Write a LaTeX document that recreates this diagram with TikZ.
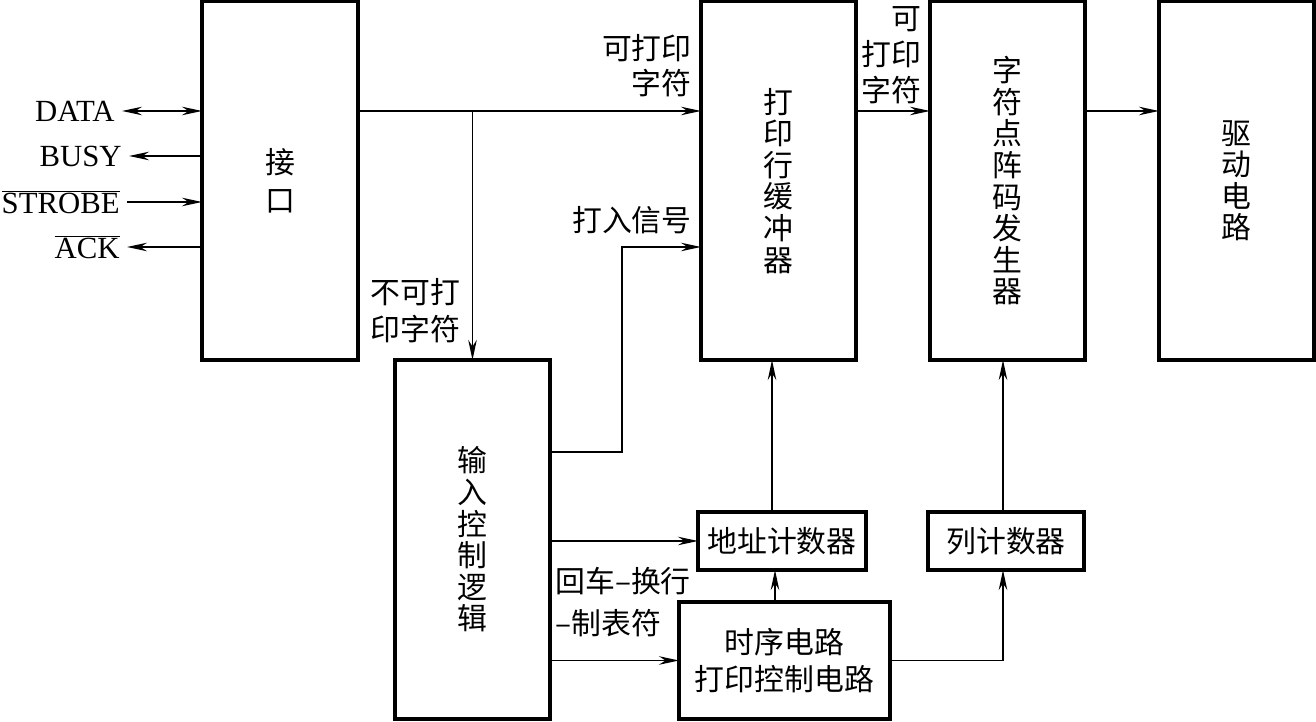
\documentclass[tikz,border=0pt]{standalone}
\usepackage{fontspec}
\setmainfont{Liberation Serif}
\newfontfamily\cjk{Noto Sans CJK SC}
\usetikzlibrary{arrows.meta,positioning,calc}

\begin{document}
\begin{tikzpicture}[
  every node/.style={font=\cjk\fontsize{17}{18}\selectfont},
  blk/.style={draw,line width=2.2pt,inner sep=0pt,outer sep=0pt,align=center},
  arr/.style={-{Stealth[length=4mm,width=1.7mm]},line width=1pt},
  lbl/.style={inner sep=0pt},
  sig/.style={font=\fontsize{17.5}{19}\selectfont,anchor=east,inner sep=4pt},
]
  \useasboundingbox (0,0) rectangle (26.32,14.44);

  % Upper row
  \node[blk,minimum width=3.12cm,minimum height=7.17cm,
        font=\cjk\fontsize{17}{21.8}\selectfont] (jk) at (5.6,10.825) {接\\口};
  \node[blk,minimum width=3.1cm,minimum height=7.17cm] (hc) at (15.57,10.825)
    {打\\印\\行\\缓\\冲\\器};
  \node[blk,minimum width=3.1cm,minimum height=7.17cm] (zf) at (20.15,10.825)
    {字\\符\\点\\阵\\码\\发\\生\\器};
  \node[blk,minimum width=3.1cm,minimum height=7.17cm] (qd) at (24.73,10.825)
    {驱\\动\\电\\路};

  % Lower row
  \node[blk,minimum width=3.1cm,minimum height=7.18cm] (srkz) at (9.45,3.65)
    {输\\入\\控\\制\\逻\\辑};
  \node[blk,minimum width=3.36cm,minimum height=1.16cm] (dz) at (15.64,3.62) {地址计数器};
  \node[blk,minimum width=3.12cm,minimum height=1.16cm] (ljs) at (20.12,3.62) {列计数器};
  \node[blk,minimum width=4.22cm,minimum height=2.34cm,
        font=\cjk\fontsize{17}{21}\selectfont] (sx) at (15.69,1.23) {时序电路\\打印控制电路};

  % Interface signals
  \node[sig] (data) at (2.44,12.22) {DATA};
  \node[sig] (busy) at (2.58,11.32) {BUSY};
  \node[sig] (stb) at (2.54,10.40) {$\overline{\mbox{STROBE}}$};
  \node[sig] (ack) at (2.54,9.50) {$\overline{\mbox{ACK}}$};
  \draw[{Stealth[length=4mm,width=1.7mm]}-{Stealth[length=4mm,width=1.7mm]},line width=1pt]
    (data.east) -- (data.east -| jk.west);
  \draw[arr] (busy.east -| jk.west) -- (busy.east);
  \draw[arr] (stb.east) -- (stb.east -| jk.west);
  \draw[arr] (ack.east -| jk.west) -- (ack.east);

  % Data path
  \coordinate (jkout) at (7.16,12.22);
  \coordinate (tap) at (srkz.north |- jkout);
  \draw[arr] (jkout) -- (jkout -| hc.west);
  \draw[arr] (tap) -- (srkz.north);
  \draw[arr] (jkout -| hc.east) -- (jkout -| zf.west);
  \draw[arr] (jkout -| zf.east) -- (jkout -| qd.west);

  % Control path
  \coordinate (dr1) at (srkz.east |- 0,5.40);
  \coordinate (dr2) at (hc.west |- 0,9.50);
  \draw[arr] (dr1) -- ++(1.44,0) |- (dr2);
  \draw[arr] (srkz.east |- dz.west) -- (dz.west);
  \draw[arr] (srkz.east |- sx.west) -- (sx.west);
  \draw[arr] ([xshift=-0.14cm]dz.south |- sx.north) -- ([xshift=-0.14cm]dz.south);
  \draw[arr] ([xshift=-0.2cm]dz.north) -- ([xshift=-0.2cm]dz.north |- hc.south);
  \draw[arr] (sx.east) -| ([xshift=-0.06cm]ljs.south);
  \draw[arr] ([xshift=-0.06cm]ljs.north) -- ([xshift=-0.06cm]ljs.north |- zf.south);

  % Labels
  \node[lbl,anchor=east,align=right,font=\cjk\fontsize{17}{20}\selectfont] (kdy) at (13.84,13.13)
    {可打印\\字符};
  \node[lbl,anchor=east,align=right,font=\cjk\fontsize{17}{20.5}\selectfont] (kdy2) at (18.44,13.34)
    {可\\打印\\字符};
  \node[lbl,anchor=east] (drxh) at (13.84,10.04) {打入信号};
  \node[lbl,anchor=west,align=left,font=\cjk\fontsize{17}{21}\selectfont] (bkd) at (7.4,8.22)
    {不可打\\印字符};
  \node[lbl,anchor=west,align=left,font=\cjk\fontsize{17}{23.5}\selectfont] (hchh) at (11.1,2.4)
    {回车–换行\\–制表符};
\end{tikzpicture}
\end{document}
